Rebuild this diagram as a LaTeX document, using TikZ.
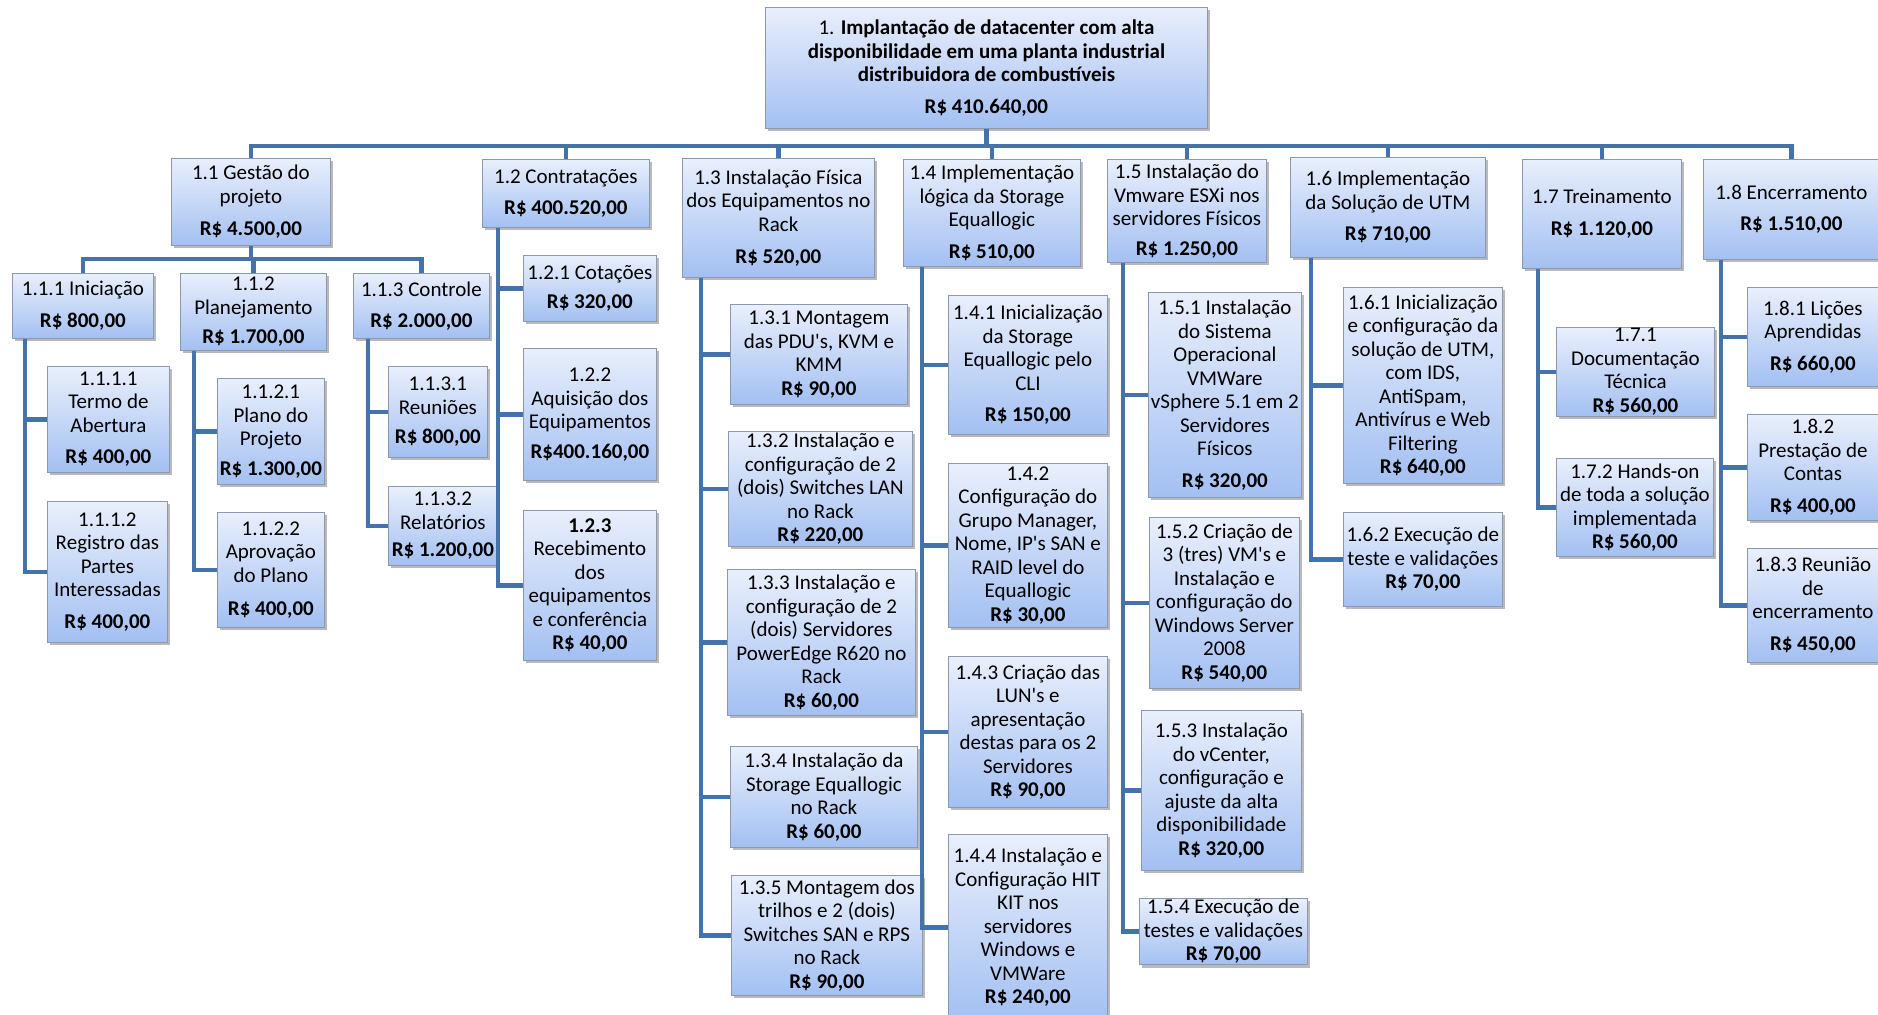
\documentclass[tikz,border=0pt]{standalone}
\usepackage{fontspec}
\setmainfont{Carlito}
\usetikzlibrary{shadows}
\definecolor{azultraco}{RGB}{68,114,170}
\definecolor{azulclaro}{RGB}{233,239,252}
\definecolor{azulescuro}{RGB}{163,192,242}
\definecolor{bordacaixa}{RGB}{140,152,172}

\begin{document}
\begin{tikzpicture}[x=1pt,y=-1pt]
\tikzset{caixa/.style 2 args={draw=bordacaixa, line width=0.8pt, top color=azulclaro, bottom color=azulescuro,
    drop shadow={shadow xshift=3pt, shadow yshift=-3pt, fill=black!45, opacity=0.6},
    anchor=north west, minimum width=#1, minimum height=#2, inner sep=1pt, align=center,
    font=\fontsize{21}{23.5}\selectfont},
  traco/.style={draw=azultraco, line width=4.5pt}}
\path[use as bounding box, fill=white] (0,0) rectangle (1878,1014);
\node[caixa={442pt}{121pt}] (T1) at (765,7) {1. \textbf{Implantação de datacenter com alta}\\\textbf{disponibilidade em uma planta industrial}\\\textbf{distribuidora de combustíveis}\\[8pt]\textbf{R\$ 410.640,00}};
\node[caixa={159pt}{87pt}] (T11) at (171,158) {1.1 Gestão do\\projeto\\[9pt]\textbf{R\$ 4.500,00}};
\node[caixa={167pt}{68pt}] (T12) at (482,159) {1.2 Contratações\\[8pt]\textbf{R\$ 400.520,00}};
\node[caixa={192pt}{119pt}] (T13) at (682,158) {1.3 Instalação Física\\dos Equipamentos no\\Rack\\[9pt]\textbf{R\$ 520,00}};
\node[caixa={177pt}{107pt}] (T14) at (903,159) {1.4 Implementação\\lógica da Storage\\Equallogic\\[8pt]\textbf{R\$ 510,00}};
\node[caixa={159pt}{103pt}] (T15) at (1107,159) {1.5 Instalação do\\Vmware ESXi nos\\servidores Físicos\\[6pt]\textbf{R\$ 1.250,00}};
\node[caixa={195pt}{100pt}] (T16) at (1290,157) {1.6 Implementação\\da Solução de UTM\\[8pt]\textbf{R\$ 710,00}};
\node[caixa={159pt}{109pt}] (T17) at (1522,159) {1.7 Treinamento\\[8pt]\textbf{R\$ 1.120,00}};
\node[caixa={176pt}{100pt}] (T18) at (1703,159) {1.8 Encerramento\\[8pt]\textbf{R\$ 1.510,00}};
\node[caixa={141pt}{65pt}] (T111) at (12,273) {1.1.1 Iniciação\\[8pt]\textbf{R\$ 800,00}};
\node[caixa={146pt}{77pt}] (T112) at (180,273) {1.1.2\\Planejamento\\[6pt]\textbf{R\$ 1.700,00}};
\node[caixa={136pt}{65pt}] (T113) at (353,273) {1.1.3 Controle\\[8pt]\textbf{R\$ 2.000,00}};
\node[caixa={122pt}{106pt}] (T1111) at (47,366) {1.1.1.1\\Termo de\\Abertura\\[8pt]\textbf{R\$ 400,00}};
\node[caixa={120pt}{141pt}] (T1112) at (47,501) {1.1.1.2\\Registro das\\Partes\\Interessadas\\[8pt]\textbf{R\$ 400,00}};
\node[caixa={107pt}{106pt}] (T1121) at (217,378) {1.1.2.1\\Plano do\\Projeto\\[6pt]\textbf{R\$ 1.300,00}};
\node[caixa={107pt}{115pt}] (T1122) at (217,512) {1.1.2.2\\Aprovação\\do Plano\\[10pt]\textbf{R\$ 400,00}};
\node[caixa={99pt}{91pt}] (T1131) at (388,366) {1.1.3.1\\Reuniões\\[6pt]\textbf{R\$ 800,00}};
\node[caixa={109pt}{79pt}] (T1132) at (388,486) {1.1.3.2\\Relatórios\\[4pt]\textbf{R\$ 1.200,00}};
\node[caixa={133pt}{66pt}] (T121) at (523,255) {1.2.1 Cotações\\[6pt]\textbf{R\$ 320,00}};
\node[caixa={133pt}{132pt}] (T122) at (523,348) {1.2.2\\Aquisição dos\\Equipamentos\\[6pt]\textbf{R\$400.160,00}};
\node[caixa={133pt}{150pt}] (T123) at (523,510) {\textbf{1.2.3}\\Recebimento\\dos\\equipamentos\\e conferência\\\textbf{R\$ 40,00}};
\node[caixa={177pt}{100pt}] (T131) at (730,304) {1.3.1 Montagem\\das PDU\textquotesingle s, KVM e\\KMM\\\textbf{R\$ 90,00}};
\node[caixa={184pt}{115pt}] (T132) at (728,431) {1.3.2 Instalação e\\configuração de 2\\(dois) Switches LAN\\no Rack\\\textbf{R\$ 220,00}};
\node[caixa={188pt}{146pt}] (T133) at (727,569) {1.3.3 Instalação e\\configuração de 2\\(dois) Servidores\\PowerEdge R620 no\\Rack\\\textbf{R\$ 60,00}};
\node[caixa={187pt}{101pt}] (T134) at (730,746) {1.3.4 Instalação da\\Storage Equallogic\\no Rack\\\textbf{R\$ 60,00}};
\node[caixa={191pt}{120pt}] (T135) at (731,875) {1.3.5 Montagem dos\\trilhos e 2 (dois)\\Switches SAN e RPS\\no Rack\\\textbf{R\$ 90,00}};
\node[caixa={159pt}{139pt}] (T141) at (948,295) {1.4.1 Inicialização\\da Storage\\Equallogic pelo\\CLI\\[8pt]\textbf{R\$ 150,00}};
\node[caixa={159pt}{164pt}] (T142) at (948,463) {1.4.2\\Configuração do\\Grupo Manager,\\Nome, IP\textquotesingle s SAN e\\RAID level do\\Equallogic\\\textbf{R\$ 30,00}};
\node[caixa={159pt}{151pt}] (T143) at (948,656) {1.4.3 Criação das\\LUN\textquotesingle s e\\apresentação\\destas para os 2\\Servidores\\\textbf{R\$ 90,00}};
\node[caixa={159pt}{186pt}] (T144) at (948,834) {1.4.4 Instalação e\\Configuração HIT\\KIT nos\\servidores\\Windows e\\VMWare\\\textbf{R\$ 240,00}};
\node[caixa={153pt}{205pt}] (T151) at (1148,292) {1.5.1 Instalação\\do Sistema\\Operacional\\VMWare\\vSphere 5.1 em 2\\Servidores\\Físicos\\[8pt]\textbf{R\$ 320,00}};
\node[caixa={150pt}{171pt}] (T152) at (1149,517) {1.5.2 Criação de\\3 (tres) VM\textquotesingle s e\\Instalação e\\configuração do\\Windows Server\\2008\\\textbf{R\$ 540,00}};
\node[caixa={160pt}{160pt}] (T153) at (1141,710) {1.5.3 Instalação\\do vCenter,\\configuração e\\ajuste da alta\\disponibilidade\\\textbf{R\$ 320,00}};
\node[caixa={168pt}{65pt}] (T154) at (1139,898) {1.5.4 Execução de\\testes e validações\\\textbf{R\$ 70,00}};
\node[caixa={159pt}{196pt}] (T161) at (1343,287) {1.6.1 Inicialização\\e configuração da\\solução de UTM,\\com IDS,\\AntiSpam,\\Antivírus e Web\\Filtering\\\textbf{R\$ 640,00}};
\node[caixa={159pt}{94pt}] (T162) at (1343,512) {1.6.2 Execução de\\teste e validações\\\textbf{R\$ 70,00}};
\node[caixa={158pt}{89pt}] (T171) at (1556,327) {1.7.1\\Documentação\\Técnica\\\textbf{R\$ 560,00}};
\node[caixa={157pt}{98pt}] (T172) at (1556,458) {1.7.2 Hands-on\\de toda a solução\\implementada\\\textbf{R\$ 560,00}};
\node[caixa={131pt}{99pt}] (T181) at (1747,287) {1.8.1 Lições\\Aprendidas\\[8pt]\textbf{R\$ 660,00}};
\node[caixa={131pt}{106pt}] (T182) at (1747,414) {1.8.2\\Prestação de\\Contas\\[8pt]\textbf{R\$ 400,00}};
\node[caixa={131pt}{114pt}] (T183) at (1747,548) {1.8.3 Reunião\\de\\encerramento\\[8pt]\textbf{R\$ 450,00}};
\draw[traco] (T1.south) -- ++(0,17) -| (T11.north);
\draw[traco] (T1.south) -- ++(0,17) -| (T12.north);
\draw[traco] (T1.south) -- ++(0,17) -| (T13.north);
\draw[traco] (T1.south) -- ++(0,17) -| (T14.north);
\draw[traco] (T1.south) -- ++(0,17) -| (T15.north);
\draw[traco] (T1.south) -- ++(0,17) -| (T16.north);
\draw[traco] (T1.south) -- ++(0,17) -| (T17.north);
\draw[traco] (T1.south) -- ++(0,17) -| (T18.north);
\draw[traco] (T11.south) -- ++(0,13) -| (T111.north);
\draw[traco] (T11.south) -- ++(0,13) -| (T112.north);
\draw[traco] (T11.south) -- ++(0,13) -| (T113.north);
\draw[traco] ([xshift=13pt]T111.south west) |- (T1111.west);
\draw[traco] ([xshift=13pt]T111.south west) |- (T1112.west);
\draw[traco] ([xshift=14pt]T112.south west) |- (T1121.west);
\draw[traco] ([xshift=14pt]T112.south west) |- (T1122.west);
\draw[traco] ([xshift=15pt]T113.south west) |- (T1131.west);
\draw[traco] ([xshift=15pt]T113.south west) |- (T1132.west);
\draw[traco] ([xshift=16pt]T12.south west) |- (T121.west);
\draw[traco] ([xshift=16pt]T12.south west) |- (T122.west);
\draw[traco] ([xshift=16pt]T12.south west) |- (T123.west);
\draw[traco] ([xshift=19pt]T13.south west) |- (T131.west);
\draw[traco] ([xshift=19pt]T13.south west) |- (T132.west);
\draw[traco] ([xshift=19pt]T13.south west) |- (T133.west);
\draw[traco] ([xshift=19pt]T13.south west) |- (T134.west);
\draw[traco] ([xshift=19pt]T13.south west) |- (T135.west);
\draw[traco] ([xshift=19pt]T14.south west) |- (T141.west);
\draw[traco] ([xshift=19pt]T14.south west) |- (T142.west);
\draw[traco] ([xshift=19pt]T14.south west) |- (T143.west);
\draw[traco] ([xshift=19pt]T14.south west) |- (T144.west);
\draw[traco] ([xshift=16pt]T15.south west) |- (T151.west);
\draw[traco] ([xshift=16pt]T15.south west) |- (T152.west);
\draw[traco] ([xshift=16pt]T15.south west) |- (T153.west);
\draw[traco] ([xshift=16pt]T15.south west) |- (T154.west);
\draw[traco] ([xshift=21pt]T16.south west) |- (T161.west);
\draw[traco] ([xshift=21pt]T16.south west) |- (T162.west);
\draw[traco] ([xshift=16pt]T17.south west) |- (T171.west);
\draw[traco] ([xshift=16pt]T17.south west) |- (T172.west);
\draw[traco] ([xshift=18pt]T18.south west) |- (T181.west);
\draw[traco] ([xshift=18pt]T18.south west) |- (T182.west);
\draw[traco] ([xshift=18pt]T18.south west) |- (T183.west);
\end{tikzpicture}
\end{document}
